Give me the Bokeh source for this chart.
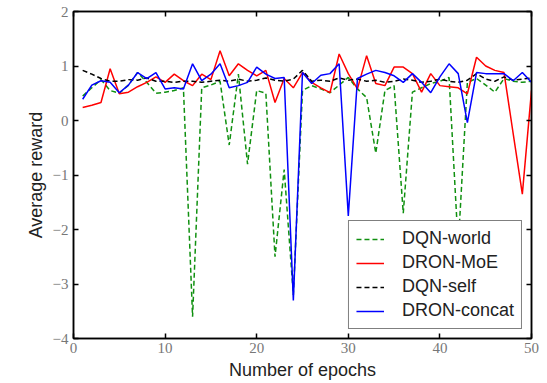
from bokeh.plotting import figure
from bokeh.models import Range1d, LinearAxis, FixedTicker
from bokeh.embed import file_html
from bokeh.resources import INLINE

epochs = list(range(1, 51))

dqn_world = [0.45, 0.60, 0.75, 0.55, 0.50, 0.65, 0.88, 0.70, 0.50, 0.52,
             0.55, 0.60, -3.60, 0.60, 0.65, 0.72, -0.45, 0.85, -0.80, 0.55,
             0.50, -2.50, -0.90, -3.20, 0.55, 0.64, 0.58, 0.51, 0.65, 0.79,
             0.58, 0.42, -0.60, 0.55, 0.64, -1.70, 0.52, 0.60, 0.68, 0.72,
             0.79, -2.30, 0.70, 0.77, 0.65, 0.52, 0.77, 0.72, 0.70, 0.72]

dron_moe = [0.24, 0.28, 0.33, 0.95, 0.49, 0.52, 0.62, 0.70, 0.80, 0.70,
            0.85, 0.73, 0.64, 0.85, 0.75, 1.28, 0.82, 1.04, 0.92, 0.82,
            0.92, 0.33, 0.77, 0.60, 0.88, 0.70, 0.60, 0.51, 1.22, 0.86,
            0.58, 1.19, 0.68, 0.64, 0.98, 0.98, 0.86, 0.52, 0.86, 0.64,
            0.62, 0.60, 0.49, 1.16, 1.00, 0.92, 0.88, -0.24, -1.35, 0.55]

dqn_self = [0.92, 0.85, 0.77, 0.72, 0.72, 0.75, 0.74, 0.78, 0.72, 0.72,
            0.70, 0.72, 0.72, 0.70, 0.72, 0.74, 0.72, 0.76, 0.72, 0.74,
            0.78, 0.74, 0.72, 0.76, 0.92, 0.72, 0.74, 0.72, 0.78, 0.74,
            0.76, 0.72, 0.74, 0.70, 0.72, 0.76, 0.74, 0.70, 0.72, 0.76,
            0.72, 0.70, 0.74, 0.86, 0.76, 0.72, 0.80, 0.74, 0.76, 0.78]

dron_concat = [0.39, 0.65, 0.73, 0.70, 0.51, 0.65, 0.88, 0.77, 0.88, 0.58,
               0.60, 0.58, 1.04, 0.73, 0.85, 1.04, 0.60, 0.64, 0.70, 0.98,
               0.85, 0.77, 0.79, -3.30, 0.88, 0.68, 0.83, 0.86, 1.04, -1.75,
               0.77, 0.85, 0.92, 0.88, 0.82, 0.70, 0.86, 0.70, 0.51, 0.80,
               1.04, 0.86, -0.04, 0.88, 0.86, 0.86, 0.86, 0.73, 0.88, 0.70]

x_ticks = [0, 10, 20, 30, 40, 50]
x_tick_labels = ["0", "10", "20", "30", "40", "50"]
y_ticks = [-4, -3, -2, -1, 0, 1, 2]
y_tick_labels = ["\u22124", "\u22123", "\u22122", "\u22121", "0", "1", "2"]

p = figure(width=547, height=383, output_backend="svg", toolbar_location=None,
           x_range=Range1d(0, 50), y_range=Range1d(-4, 2),
           min_border_left=73, min_border_right=16, min_border_top=11,
           min_border_bottom=45)

p.grid.visible = False
p.outline_line_color = "black"
p.outline_line_width = 1.5
p.background_fill_color = "white"
p.border_fill_color = "white"

p.line(epochs, dqn_world, line_color="#109010", line_width=1.5, line_dash="5 3",
       legend_label="DQN-world")
p.line(epochs, dron_moe, line_color="#ff0000", line_width=1.5,
       legend_label="DRON-MoE")
p.line(epochs, dqn_self, line_color="black", line_width=1.5, line_dash="5 3",
       legend_label="DQN-self")
p.line(epochs, dron_concat, line_color="#0000ff", line_width=1.5,
       legend_label="DRON-concat")

p.xaxis.ticker = FixedTicker(ticks=x_ticks)
p.yaxis.ticker = FixedTicker(ticks=y_ticks)
p.xaxis.major_label_overrides = dict(zip(x_ticks, x_tick_labels))
p.yaxis.major_label_overrides = dict(zip(y_ticks, y_tick_labels))

for ax in (p.xaxis[0], p.yaxis[0]):
    ax.major_tick_in = 5
    ax.major_tick_out = 0
    ax.minor_tick_line_color = None
    ax.axis_line_width = 1.5
    ax.major_tick_line_width = 1.5
    ax.major_label_text_font = "Liberation Serif"
    ax.major_label_text_font_size = "15px"
    ax.major_label_text_color = "#777777"
    ax.axis_label_text_font = "Liberation Sans"
    ax.axis_label_text_font_size = "18px"
    ax.axis_label_text_font_style = "normal"
    ax.axis_label_text_color = "#222222"

p.xaxis.axis_label = "Number of epochs"
p.yaxis.axis_label = "Average reward"
p.xaxis.major_label_standoff = 4
p.yaxis.major_label_standoff = 5
p.xaxis.axis_label_standoff = 4
p.yaxis.axis_label_standoff = 4

for loc, ticks in (("above", x_ticks), ("right", y_ticks)):
    ax = LinearAxis(ticker=FixedTicker(ticks=ticks), major_tick_in=5, major_tick_out=0,
                    minor_tick_line_color=None, major_label_text_font_size="0px",
                    major_label_text_color=None,
                    major_label_standoff=0, axis_line_width=1.5,
                    major_tick_line_width=1.5)
    p.add_layout(ax, loc)

lg = p.legend[0]
lg.location = "bottom_right"
lg.margin = 9
lg.padding = 7
lg.spacing = 3
lg.label_height = 20
lg.glyph_height = 20
lg.glyph_width = 28
lg.label_standoff = 18
lg.label_text_font = "Liberation Sans"
lg.label_text_font_size = "18px"
lg.label_text_color = "#222222"
lg.border_line_color = "black"
lg.border_line_width = 1.5
lg.background_fill_alpha = 1.0

open("out.html", "w").write(file_html(p, INLINE))
